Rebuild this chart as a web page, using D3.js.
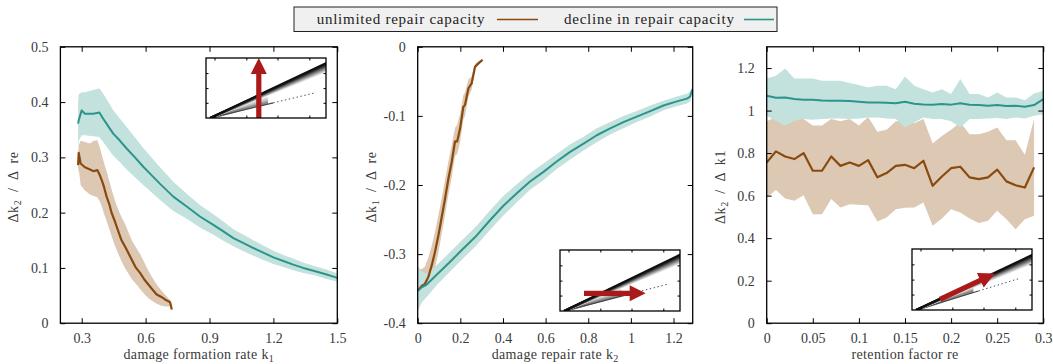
<!DOCTYPE html>
<html><head><meta charset="utf-8">
<script src="https://cdn.jsdelivr.net/npm/d3@7"></script>
<style>
html,body{margin:0;padding:0;background:#fff;}
svg{display:block;font-family:"Liberation Serif","DejaVu Serif",serif;}
</style></head><body>
<svg id="chart" width="1053" height="364"></svg>
<script>
// ---------------- data ----------------
const seriesNames = ["unlimited repair capacity", "decline in repair capacity"];

// Panel A: Δk2/Δre against damage formation rate k1
const aUnlimitedX = [0.283,0.286,0.295,0.315,0.339,0.356,0.373,0.385,0.394,0.405,0.417,0.429,0.441,0.456,0.472,0.487,0.503,0.519,0.535,0.555,0.574,0.594,0.613,0.632,0.652,0.672,0.691,0.705,0.715,0.723];
const aUnlimitedY = [0.286,0.308,0.289,0.282,0.278,0.275,0.277,0.268,0.259,0.246,0.229,0.216,0.199,0.184,0.166,0.150,0.139,0.127,0.115,0.100,0.091,0.079,0.070,0.061,0.052,0.048,0.043,0.040,0.038,0.025];
const aUnlimitedHi = [0.300,0.322,0.330,0.328,0.325,0.330,0.331,0.318,0.305,0.290,0.275,0.258,0.241,0.222,0.205,0.192,0.180,0.165,0.150,0.137,0.125,0.110,0.095,0.082,0.070,0.060,0.052,0.046,0.042,0.027];
const aUnlimitedLo = [0.270,0.280,0.250,0.240,0.233,0.230,0.228,0.220,0.212,0.198,0.185,0.171,0.157,0.140,0.125,0.112,0.100,0.090,0.080,0.071,0.062,0.053,0.045,0.040,0.035,0.032,0.030,0.030,0.030,0.023];

const aDeclineX = [0.283,0.286,0.300,0.315,0.354,0.383,0.401,0.425,0.448,0.480,0.511,0.550,0.589,0.630,0.668,0.730,0.793,0.855,0.918,0.965,1.012,1.060,1.106,1.150,1.200,1.250,1.293,1.340,1.388,1.450,1.500];
const aDeclineY = [0.361,0.367,0.385,0.379,0.379,0.381,0.370,0.356,0.343,0.330,0.316,0.300,0.283,0.267,0.252,0.229,0.211,0.193,0.178,0.166,0.154,0.145,0.136,0.128,0.119,0.112,0.106,0.100,0.095,0.088,0.082];
const aDeclineHi = [0.400,0.414,0.418,0.418,0.422,0.425,0.415,0.400,0.385,0.370,0.355,0.336,0.317,0.299,0.282,0.256,0.234,0.214,0.197,0.184,0.170,0.160,0.150,0.141,0.131,0.123,0.117,0.110,0.104,0.097,0.090];
const aDeclineLo = [0.315,0.330,0.340,0.340,0.338,0.337,0.328,0.315,0.303,0.291,0.278,0.264,0.250,0.236,0.223,0.203,0.189,0.173,0.160,0.149,0.139,0.130,0.122,0.115,0.107,0.101,0.096,0.091,0.087,0.080,0.075];

// Panel B: Δk1/Δre against damage repair rate k2
const bUnlimitedX = [0.000,0.019,0.034,0.050,0.066,0.081,0.097,0.113,0.128,0.144,0.160,0.175,0.185,0.199,0.214,0.222,0.238,0.253,0.269,0.285,0.304];
const bUnlimitedY = [-0.353,-0.346,-0.343,-0.333,-0.316,-0.297,-0.273,-0.246,-0.220,-0.191,-0.166,-0.137,-0.137,-0.118,-0.087,-0.084,-0.060,-0.053,-0.029,-0.024,-0.019];
const bUnlimitedHi = [-0.320,-0.322,-0.318,-0.305,-0.288,-0.268,-0.244,-0.218,-0.193,-0.166,-0.142,-0.117,-0.113,-0.097,-0.070,-0.066,-0.047,-0.043,-0.025,-0.021,-0.018];
const bUnlimitedLo = [-0.375,-0.362,-0.356,-0.350,-0.338,-0.320,-0.298,-0.270,-0.244,-0.214,-0.188,-0.158,-0.155,-0.138,-0.105,-0.100,-0.072,-0.062,-0.032,-0.026,-0.020];

const bDeclineX = [0.000,0.019,0.042,0.089,0.152,0.214,0.277,0.339,0.402,0.465,0.527,0.590,0.652,0.715,0.778,0.840,0.903,0.965,1.028,1.091,1.153,1.216,1.263,1.278,1.288];
const bDeclineY = [-0.353,-0.348,-0.344,-0.330,-0.311,-0.292,-0.273,-0.251,-0.230,-0.212,-0.195,-0.181,-0.166,-0.152,-0.140,-0.128,-0.118,-0.109,-0.101,-0.093,-0.085,-0.079,-0.075,-0.072,-0.062];
const bDeclineHi = [-0.318,-0.326,-0.328,-0.316,-0.297,-0.278,-0.259,-0.237,-0.216,-0.199,-0.183,-0.169,-0.155,-0.141,-0.130,-0.118,-0.109,-0.100,-0.093,-0.085,-0.078,-0.072,-0.068,-0.065,-0.057];
const bDeclineLo = [-0.382,-0.370,-0.362,-0.345,-0.325,-0.306,-0.287,-0.265,-0.244,-0.225,-0.207,-0.193,-0.177,-0.163,-0.150,-0.138,-0.127,-0.118,-0.109,-0.101,-0.092,-0.086,-0.082,-0.079,-0.067];

// Panel C: Δk2/Δk1 against retention factor re
const cUnlimitedX = [0,0.01,0.02,0.03,0.04,0.05,0.06,0.07,0.08,0.09,0.10,0.11,0.12,0.13,0.14,0.15,0.16,0.17,0.18,0.19,0.20,0.21,0.22,0.23,0.24,0.25,0.26,0.27,0.28,0.29];
const cUnlimitedY = [0.756,0.808,0.784,0.772,0.800,0.717,0.717,0.784,0.740,0.756,0.740,0.767,0.686,0.706,0.740,0.745,0.729,0.764,0.646,0.690,0.729,0.736,0.686,0.678,0.686,0.722,0.667,0.649,0.638,0.733];
const cUnlimitedHi = [0.950,0.970,0.960,0.960,0.960,0.930,0.930,0.960,0.950,0.960,0.930,0.970,0.900,0.910,0.950,0.950,0.940,0.960,0.845,0.880,0.910,0.944,0.889,0.889,0.900,0.920,0.860,0.860,0.792,0.960];
const cUnlimitedLo = [0.591,0.626,0.587,0.576,0.602,0.513,0.513,0.584,0.544,0.560,0.557,0.555,0.478,0.497,0.536,0.543,0.544,0.568,0.458,0.493,0.536,0.521,0.493,0.471,0.482,0.529,0.489,0.442,0.489,0.505];

const cDeclineX = [0,0.01,0.02,0.03,0.04,0.05,0.06,0.07,0.08,0.09,0.10,0.11,0.12,0.13,0.14,0.15,0.16,0.17,0.18,0.19,0.20,0.21,0.22,0.23,0.24,0.25,0.26,0.27,0.28,0.29,0.30];
const cDeclineY = [1.070,1.060,1.062,1.054,1.051,1.051,1.048,1.046,1.046,1.045,1.042,1.038,1.038,1.037,1.034,1.042,1.032,1.029,1.028,1.031,1.028,1.035,1.027,1.026,1.023,1.026,1.022,1.023,1.018,1.026,1.054];
const cDeclineHi = [1.151,1.164,1.198,1.151,1.151,1.151,1.140,1.140,1.140,1.130,1.120,1.109,1.117,1.117,1.100,1.160,1.117,1.100,1.085,1.100,1.078,1.148,1.078,1.078,1.062,1.085,1.062,1.062,1.049,1.080,1.093];
const cDeclineLo = [0.976,0.952,0.929,0.952,0.960,0.957,0.960,0.963,0.963,0.960,0.963,0.968,0.968,0.963,0.960,0.921,0.944,0.967,0.960,0.960,0.950,0.921,0.960,0.960,0.963,0.965,0.960,0.968,0.963,0.976,0.983];

// axis ranges and ticks
const aXDomain = [0.2, 1.5], aYDomain = [0, 0.5];
const aXTicks = [0.3, 0.6, 0.9, 1.2, 1.5], aYTicks = [0, 0.1, 0.2, 0.3, 0.4, 0.5];
const bXDomain = [0, 1.29], bYDomain = [-0.4, 0];
const bXTicks = [0, 0.2, 0.4, 0.6, 0.8, 1, 1.2], bYTicks = [-0.4, -0.3, -0.2, -0.1, 0];
const cXDomain = [0, 0.3], cYDomain = [0, 1.3];
const cXTicks = [0, 0.05, 0.1, 0.15, 0.2, 0.25, 0.3], cYTicks = [0, 0.2, 0.4, 0.6, 0.8, 1, 1.2];

// schematic insets: fan of trajectories, the lower reference line and the arrow direction
const insetFanDrop = [0, 0.015, 0.03, 0.045, 0.06, 0.075, 0.09, 0.105, 0.12, 0.135];
const insetTicksU = [0.075, 0.34, 0.6, 0.865];
const insetTicksV = [0.245, 0.49, 0.74];
const insetUpperEnd = [0.91, 0.92, 0.90];
const insetLowerEnd = [[0.91, 0.42], [0.90, 0.44], [0.90, 0.52]];
const insetArrows = [[0.44, 0.0, 0.44, 1.0], [0.20, 0.29, 0.714, 0.29], [0.233, 0.175, 0.69, 0.60]];

// ---------------- drawing ----------------
const FONT = "Liberation Serif, DejaVu Serif, serif";
const colors = {
  unlimited: "#8a4a0e", unlimitedBand: "#dcc8b3",
  decline: "#2b958b", declineBand: "#c3e2de",
  text: "#3a3a3a", arrow: "#ab1a1a"
};

const svg = d3.select("#chart").attr("font-family", FONT);
const plotTop = 46.8, plotBottom = 323.2;

const panels = [
  { left: 60.4, right: 337.3, xd: aXDomain, yd: aYDomain, xt: aXTicks, yt: aYTicks,
    series: [[aUnlimitedX, aUnlimitedY, aUnlimitedLo, aUnlimitedHi], [aDeclineX, aDeclineY, aDeclineLo, aDeclineHi]],
    xlab: ["damage formation rate k", "1"], ylab: ["Δk", "2", " / Δ re"],
    inset: { x: 206, y: 58, w: 120, h: 60 } },
  { left: 417.7, right: 692.7, xd: bXDomain, yd: bYDomain, xt: bXTicks, yt: bYTicks,
    series: [[bUnlimitedX, bUnlimitedY, bUnlimitedLo, bUnlimitedHi], [bDeclineX, bDeclineY, bDeclineLo, bDeclineHi]],
    xlab: ["damage repair rate k", "2"], ylab: ["Δk", "1", " / Δ re"],
    inset: { x: 560, y: 250, w: 120, h: 61 } },
  { left: 766.7, right: 1043.3, xd: cXDomain, yd: cYDomain, xt: cXTicks, yt: cYTicks,
    series: [[cUnlimitedX, cUnlimitedY, cUnlimitedLo, cUnlimitedHi], [cDeclineX, cDeclineY, cDeclineLo, cDeclineHi]],
    xlab: ["retention factor re", null], ylab: ["Δk", "2", " / Δ k1"],
    inset: { x: 912, y: 249, w: 120, h: 61 } }
];

const fmt = d => String(+d.toFixed(3));

panels.forEach((p, pi) => {
  const x = d3.scaleLinear().domain(p.xd).range([p.left, p.right]);
  const y = d3.scaleLinear().domain(p.yd).range([plotBottom, plotTop]);
  const g = svg.append("g");

  const area = d3.area().x(d => x(d[0])).y0(d => y(d[2])).y1(d => y(d[3]));
  const line = d3.line().x(d => x(d[0])).y(d => y(d[1]));
  const rows = p.series.map(s => s[0].map((v, i) => [v, s[1][i], s[2][i], s[3][i]]));

  g.append("path").datum(rows[0]).attr("d", area).attr("fill", colors.unlimitedBand);
  g.append("path").datum(rows[1]).attr("d", area).attr("fill", colors.declineBand);
  g.append("path").datum(rows[0]).attr("d", line).attr("fill", "none")
    .attr("stroke", colors.unlimited).attr("stroke-width", 2.2).attr("stroke-linejoin", "round");
  g.append("path").datum(rows[1]).attr("d", line).attr("fill", "none")
    .attr("stroke", colors.decline).attr("stroke-width", 2).attr("stroke-linejoin", "round");

  // axes with inward ticks, mirrored on the opposite sides
  const tk = 5;
  const axB = d3.axisBottom(x).tickValues(p.xt).tickSize(-tk).tickPadding(10).tickFormat(fmt);
  const axT = d3.axisTop(x).tickValues(p.xt).tickSize(-tk).tickFormat("");
  const axL = d3.axisLeft(y).tickValues(p.yt).tickSize(-tk).tickPadding(12).tickFormat(fmt);
  const axR = d3.axisRight(y).tickValues(p.yt).tickSize(-tk).tickFormat("");
  [[axB, `translate(0,${plotBottom})`], [axT, `translate(0,${plotTop})`],
   [axL, `translate(${p.left},0)`], [axR, `translate(${p.right},0)`]].forEach(([ax, tr]) => {
    const a = g.append("g").attr("transform", tr).call(ax);
    a.attr("font-family", FONT).attr("font-size", 14);
    a.select(".domain").remove();
    a.selectAll("line").attr("stroke", "#000").attr("stroke-width", 1);
    a.selectAll("text").attr("fill", colors.text);
  });
  g.append("rect").attr("x", p.left).attr("y", plotTop)
    .attr("width", p.right - p.left).attr("height", plotBottom - plotTop)
    .attr("fill", "none").attr("stroke", "#000").attr("stroke-width", 1.3);

  // axis titles
  const cx = (p.left + p.right) / 2;
  const xl = g.append("text").attr("x", cx).attr("y", 359).attr("text-anchor", "middle")
    .attr("fill", colors.text).attr("font-size", 14).attr("letter-spacing", 0.35);
  xl.append("tspan").text(p.xlab[0]);
  if (p.xlab[1]) xl.append("tspan").attr("font-size", 10).attr("dy", 3).text(p.xlab[1]);

  const ly = (plotTop + plotBottom) / 2 + 2;
  const lx = p.left - 42;
  const yl = g.append("text").attr("transform", `translate(${lx},${ly}) rotate(-90)`)
    .attr("text-anchor", "middle").attr("fill", colors.text).attr("font-size", 14)
    .attr("letter-spacing", 0.6).attr("word-spacing", 3.5);
  yl.append("tspan").text(p.ylab[0]);
  yl.append("tspan").attr("font-size", 10).attr("dy", 3).text(p.ylab[1]);
  yl.append("tspan").attr("dy", -3).text(p.ylab[2]);

  // schematic inset
  const ins = p.inset;
  const u = d3.scaleLinear().domain([0, 1]).range([ins.x, ins.x + ins.w]);
  const v = d3.scaleLinear().domain([0, 1]).range([ins.y + ins.h, ins.y]);
  const ig = g.append("g");
  ig.append("rect").attr("x", ins.x).attr("y", ins.y).attr("width", ins.w).attr("height", ins.h).attr("fill", "#fff");
  const o = 0.035;
  const cp = ig.append("clipPath").attr("id", "insclip" + pi);
  cp.append("rect").attr("x", ins.x).attr("y", ins.y).attr("width", ins.w).attr("height", ins.h);
  const fg = ig.append("g").attr("clip-path", `url(#insclip${pi})`);
  const shade = d3.scaleLinear().domain([0, insetFanDrop.length - 1]).range(["#eeeeee", "#101010"]);
  const lowEnd = insetLowerEnd[pi];
  // faint fan around the lower reference line
  [0.10, 0.07, 0.04, 0.02].forEach((d, i) => {
    fg.append("line").attr("x1", u(o)).attr("y1", v(0))
      .attr("x2", u(o + (lowEnd[0] - o) * 0.55)).attr("y2", v(lowEnd[1] * 0.55 + d))
      .attr("stroke", d3.interpolateGreys(0.25 + i * 0.1)).attr("stroke-width", 2.5);
  });
  fg.append("line").attr("x1", u(o)).attr("y1", v(0))
    .attr("x2", u(o + (lowEnd[0] - o) * 0.6)).attr("y2", v(lowEnd[1] * 0.6))
    .attr("stroke", "#444").attr("stroke-width", 1.1);
  fg.append("line").attr("x1", u(o + (lowEnd[0] - o) * 0.6)).attr("y1", v(lowEnd[1] * 0.6))
    .attr("x2", u(lowEnd[0])).attr("y2", v(lowEnd[1]))
    .attr("stroke", "#555").attr("stroke-width", 1).attr("stroke-dasharray", "1.5,2.5");
  // dense fan below the upper trajectory (light first, dark on top)
  insetFanDrop.slice().reverse().forEach((d, i) => {
    fg.append("line").attr("x1", u(o)).attr("y1", v(0))
      .attr("x2", u(1.02)).attr("y2", v(insetUpperEnd[pi] - d + 0.02))
      .attr("stroke", shade(i)).attr("stroke-width", 2.2);
  });
  // tiny inward ticks on the inset frame
  insetTicksU.forEach(t => {
    ig.append("line").attr("x1", u(t)).attr("x2", u(t)).attr("y1", v(0)).attr("y2", v(0) - 2.5).attr("stroke", "#000");
    ig.append("line").attr("x1", u(t)).attr("x2", u(t)).attr("y1", v(1)).attr("y2", v(1) + 2.5).attr("stroke", "#000");
  });
  insetTicksV.forEach(t => {
    ig.append("line").attr("y1", v(t)).attr("y2", v(t)).attr("x1", u(0)).attr("x2", u(0) + 2.5).attr("stroke", "#000");
    ig.append("line").attr("y1", v(t)).attr("y2", v(t)).attr("x1", u(1)).attr("x2", u(1) - 2.5).attr("stroke", "#000");
  });
  // direction arrow
  const ar = insetArrows[pi];
  const x0 = u(ar[0]), y0 = v(ar[1]), x1 = u(ar[2]), y1 = v(ar[3]);
  const L = Math.hypot(x1 - x0, y1 - y0), ux = (x1 - x0) / L, uy = (y1 - y0) / L;
  const nx = -uy, ny = ux, hl = 16, hw = 8, sw = 2.6;
  const bx = x1 - ux * hl, by = y1 - uy * hl;
  const pts = [[x0 + nx * sw, y0 + ny * sw], [bx + nx * sw, by + ny * sw], [bx + nx * hw, by + ny * hw], [x1, y1],
               [bx - nx * hw, by - ny * hw], [bx - nx * sw, by - ny * sw], [x0 - nx * sw, y0 - ny * sw]];
  ig.append("path").attr("d", d3.line()(pts) + "Z").attr("fill", colors.arrow);
  ig.append("rect").attr("x", ins.x).attr("y", ins.y).attr("width", ins.w).attr("height", ins.h)
    .attr("fill", "none").attr("stroke", "#000").attr("stroke-width", 1.3);
});

// legend
const lg = svg.append("g");
lg.append("rect").attr("x", 294).attr("y", 7).attr("width", 483).attr("height", 24.5)
  .attr("fill", "#f0f0f0").attr("stroke", "#222").attr("stroke-width", 1);
const legendItems = [
  { name: seriesNames[0], color: colors.unlimited, tx: 316.7, lx: 497, lw: 41 },
  { name: seriesNames[1], color: colors.decline, tx: 564, lx: 744, lw: 30 }
];
legendItems.forEach(it => {
  lg.append("text").attr("x", it.tx).attr("y", 24).attr("font-size", 15)
    .attr("letter-spacing", 0.75).attr("fill", "#222").text(it.name);
  lg.append("line").attr("x1", it.lx).attr("x2", it.lx + it.lw).attr("y1", 19.5).attr("y2", 19.5)
    .attr("stroke", it.color).attr("stroke-width", 1.6);
});
</script>
</body></html>
